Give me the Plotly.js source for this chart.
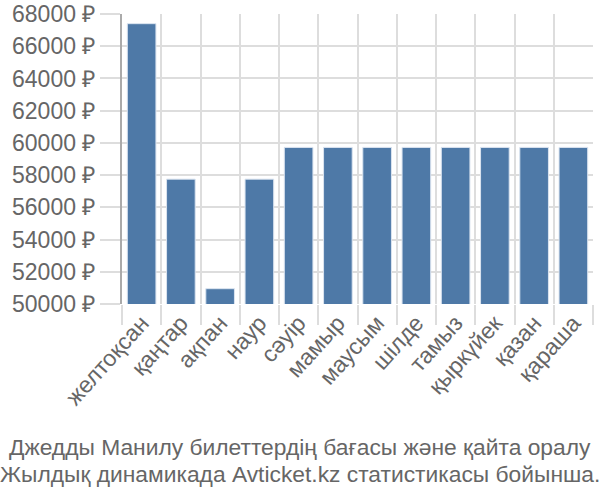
<!DOCTYPE html>
<html>
<head>
<meta charset="utf-8">
<script src="https://cdn.plot.ly/plotly-3.0.1.min.js"></script>
<style>html,body{margin:0;padding:0;background:#fff;}#chart{width:600px;height:500px;}</style>
</head>
<body>
<div id="chart"></div>
<script>
const months = ["желтоқсан","қаңтар","ақпан","наур","сәуір","мамыр","маусым","шілде","тамыз","қыркүйек","қазан","қараша"];
const prices = [67400, 57750, 50950, 57750, 59720, 59720, 59720, 59720, 59720, 59720, 59720, 59720];
const yTicks = [50000, 52000, 54000, 56000, 58000, 60000, 62000, 64000, 66000, 68000];
const yTickText = yTicks.map(v => v + " ₽");
const titleLines = ["Джедды Манилу билеттердің бағасы және қайта оралу", "Жылдық динамикада Avticket.kz статистикасы бойынша."];

const font = "Liberation Sans, Arial, sans-serif";
const data = [{
  type: "bar",
  x: months,
  y: prices,
  base: 0,
  marker: {color: "#4e79a7", line: {color: "#dbe4f0", width: 1}},
  hoverinfo: "x+y"
}];
const plotL = 122, plotR = 7, W = 600;
const centerX = (W / 2 - plotL) / (W - plotL - plotR);
const layout = {
  width: 600, height: 500,
  margin: {l: plotL, r: plotR, t: 14, b: 196},
  paper_bgcolor: "#fff", plot_bgcolor: "#fff",
  bargap: 0.27,
  showlegend: false,
  font: {family: font, color: "#666", size: 20},
  xaxis: {
    type: "category",
    tickson: "boundaries",
    ticks: "outside", ticklen: 20, tickcolor: "#ddd", tickwidth: 2,
    showgrid: true, gridcolor: "#ddd", gridwidth: 2,
    tickangle: -48,
    tickfont: {family: font, size: 23, color: "#666"},
    showline: false, zeroline: false
  },
  yaxis: {
    range: [50000, 68000],
    tickvals: yTicks, ticktext: yTickText,
    ticks: "outside", ticklen: 20, tickcolor: "#ddd", tickwidth: 2,
    showgrid: true, gridcolor: "#ddd", gridwidth: 2,
    showline: true, linecolor: "#aaa", linewidth: 2,
    zeroline: false,
    tickfont: {family: font, size: 23, color: "#666"}
  },
  annotations: titleLines.map((t, i) => ({
    xref: "paper", yref: "paper", x: centerX, y: 0,
    xanchor: "center", yanchor: "middle",
    yshift: i === 0 ? -143 : -170,
    showarrow: false,
    text: t,
    font: {family: font, size: 22.8, color: "#666"}
  }))
};
Plotly.newPlot("chart", data, layout, {displayModeBar: false, staticPlot: true});
</script>
</body>
</html>
